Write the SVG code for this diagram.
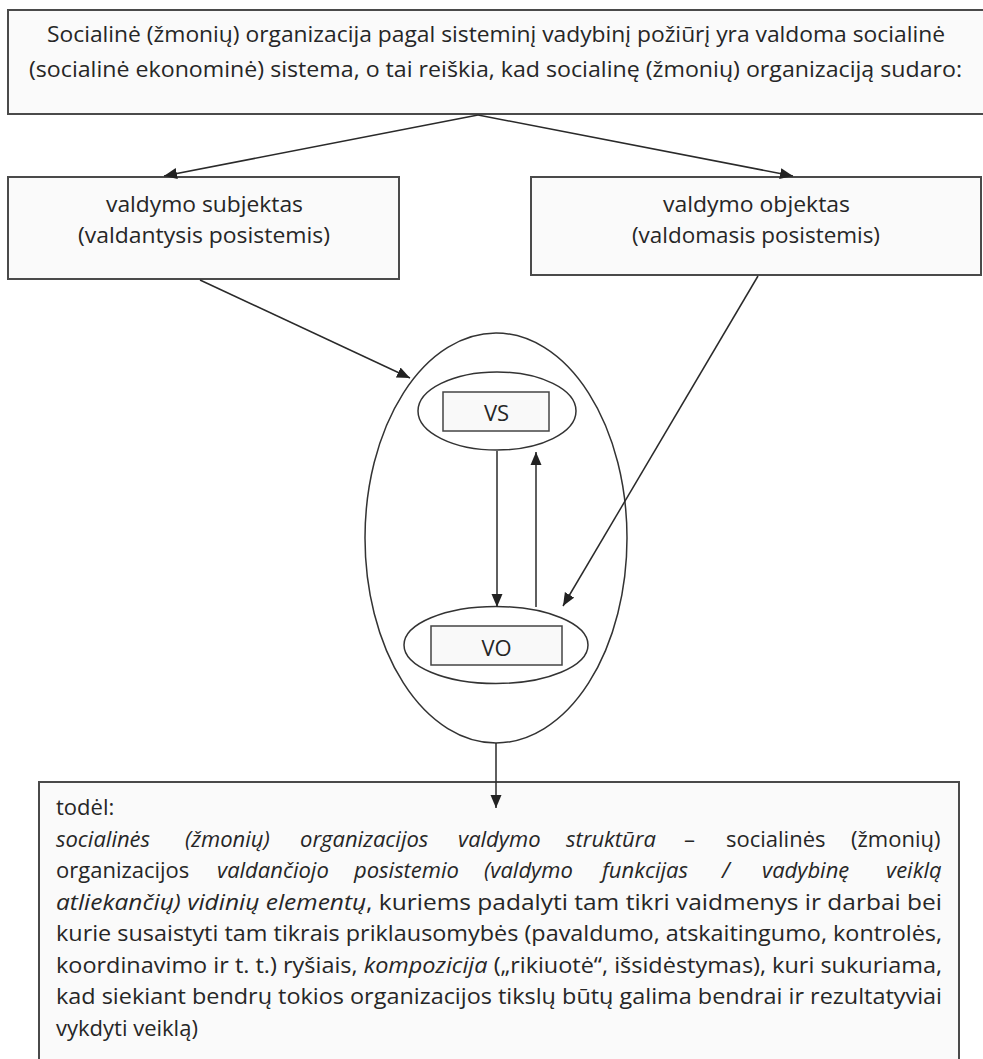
<svg xmlns="http://www.w3.org/2000/svg" width="983" height="1059" viewBox="0 0 983 1059">
<defs>
<style>
.box{fill:#fafafa;stroke:#4a4a4a;stroke-width:2}
.ell{fill:none;stroke:#333;stroke-width:1.5}
.sbox{fill:#f9f9f9;stroke:#444;stroke-width:1.5}
.t{font-family:"Open Sans","Liberation Sans",sans-serif;font-size:22px;fill:#262626}
.i{font-style:italic}
.con line{stroke:#2a2a2a;stroke-width:1.5;fill:none}
</style>
<marker id="ah" markerUnits="userSpaceOnUse" markerWidth="14" markerHeight="12" refX="13" refY="6" orient="auto">
<path d="M0,0.5 L13,6 L0,11.5 z" fill="#222"/>
</marker>
</defs>
<rect width="983" height="1059" fill="#ffffff"/>

<g id="top">
<rect class="box" x="8" y="10" width="1000" height="104"/>
<text class="t" x="47" y="42" font-size="23" textLength="898" lengthAdjust="spacingAndGlyphs">Socialinė (žmonių) organizacija pagal sisteminį vadybinį požiūrį yra valdoma socialinė</text>
<text class="t" x="29" y="77" font-size="23" textLength="933" lengthAdjust="spacingAndGlyphs">(socialinė ekonominė) sistema, o tai reiškia, kad socialinę (žmonių) organizaciją sudaro:</text>
</g>

<g id="subjektas">
<rect class="box" x="8" y="177" width="391" height="102"/>
<text class="t" x="106" y="212" textLength="197" lengthAdjust="spacingAndGlyphs">valdymo subjektas</text>
<text class="t" x="78" y="243" textLength="252" lengthAdjust="spacingAndGlyphs">(valdantysis posistemis)</text>
</g>

<g id="objektas">
<rect class="box" x="531" y="177" width="450" height="98"/>
<text class="t" x="663" y="212" textLength="187" lengthAdjust="spacingAndGlyphs">valdymo objektas</text>
<text class="t" x="632" y="243" textLength="248" lengthAdjust="spacingAndGlyphs">(valdomasis posistemis)</text>
</g>

<g id="sistema">
<ellipse class="ell" cx="496" cy="538" rx="131" ry="205"/>
</g>

<g id="vs">
<ellipse class="ell" cx="497" cy="411" rx="79" ry="39"/>
<rect class="sbox" x="443" y="392" width="106" height="39"/>
<text class="t" x="496.5" y="421" font-size="19" text-anchor="middle">VS</text>
</g>

<g id="vo">
<ellipse class="ell" cx="496" cy="645" rx="92" ry="38.5"/>
<rect class="sbox" x="431" y="626" width="131" height="39"/>
<text class="t" x="496.5" y="656" font-size="19" text-anchor="middle">VO</text>
</g>

<g id="todel">
<rect class="box" x="39" y="782" width="920" height="300"/>
<text class="t" x="56" y="815">todėl:</text>
<text class="t" y="846.5"><tspan class="i" x="56">socialinės</tspan><tspan class="i" x="185">(žmonių)</tspan><tspan class="i" x="300">organizacijos</tspan><tspan class="i" x="458">valdymo</tspan><tspan class="i" x="566">struktūra</tspan><tspan x="684">–</tspan><tspan x="726">socialinės</tspan><tspan x="851">(žmonių)</tspan></text>
<text class="t" y="878"><tspan x="56">organizacijos</tspan><tspan class="i" x="217">valdančiojo</tspan><tspan class="i" x="354">posistemio</tspan><tspan class="i" x="484">(valdymo</tspan><tspan class="i" x="602">funkcijas</tspan><tspan class="i" x="722">/</tspan><tspan class="i" x="762">vadybinę</tspan><tspan class="i" x="886">veiklą</tspan></text>
<text class="t" x="56" y="909.5" textLength="886" lengthAdjust="spacingAndGlyphs"><tspan class="i">atliekančių) vidinių elementų</tspan>, kuriems padalyti tam tikri vaidmenys ir darbai bei</text>
<text class="t" x="56" y="941" textLength="886" lengthAdjust="spacingAndGlyphs">kurie susaistyti tam tikrais priklausomybės (pavaldumo, atskaitingumo, kontrolės,</text>
<text class="t" x="56" y="972.5" textLength="886" lengthAdjust="spacingAndGlyphs">koordinavimo ir t. t.) ryšiais, <tspan class="i">kompozicija</tspan> („rikiuotė“, išsidėstymas), kuri sukuriama,</text>
<text class="t" x="56" y="1004" textLength="886" lengthAdjust="spacingAndGlyphs">kad siekiant bendrų tokios organizacijos tikslų būtų galima bendrai ir rezultatyviai</text>
<text class="t" x="56" y="1035.5">vykdyti veiklą)</text>
</g>

<g id="connectors" class="con">
<line x1="478" y1="115" x2="164" y2="176" marker-end="url(#ah)"/>
<line x1="478" y1="115" x2="793" y2="176" marker-end="url(#ah)"/>
<line x1="200" y1="280" x2="410" y2="378" marker-end="url(#ah)"/>
<line x1="758" y1="276" x2="563" y2="606" marker-end="url(#ah)"/>
<line x1="497" y1="451" x2="497" y2="607" marker-end="url(#ah)"/>
<line x1="536" y1="607" x2="536" y2="452" marker-end="url(#ah)"/>
<line x1="496" y1="743" x2="496" y2="808" marker-end="url(#ah)"/>
</g>
</svg>
